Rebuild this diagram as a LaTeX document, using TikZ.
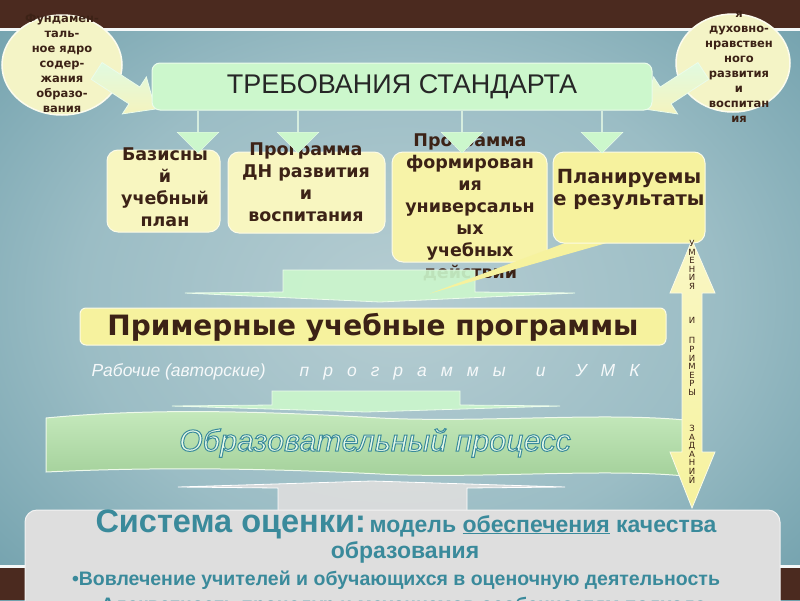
\documentclass[tikz,border=0pt]{standalone}
\usepackage{fontspec}
\setmainfont{Liberation Sans}
\newfontfamily\boxfont{DejaVu Sans}
\usetikzlibrary{shapes.geometric,shapes.arrows,positioning,calc}
\definecolor{bgLight}{HTML}{B6CDD2}
\definecolor{bgSoft}{HTML}{9BBDC5}
\definecolor{bgMid}{HTML}{72A1AD}
\definecolor{bgDark}{HTML}{4A8A9B}
\definecolor{bgEdge}{HTML}{397B8D}
\definecolor{brownBar}{HTML}{4B2A1F}
\definecolor{paleYellow}{HTML}{F4F4C6}
\definecolor{boxYellow}{HTML}{F8F6C0}
\definecolor{deepYellow}{HTML}{F6F29E}
\definecolor{mint}{HTML}{CCF7CC}
\definecolor{darkText}{HTML}{3C2216}
\definecolor{tealText}{HTML}{3A8A9B}
\definecolor{paleGray}{HTML}{DEDEDE}
\definecolor{shaftBeige}{HTML}{E4DECB}
\definecolor{bannerTop}{HTML}{C6EABD}
\definecolor{bannerMid}{HTML}{DDF6D6}
\definecolor{bannerBot}{HTML}{A3D09A}
\pgfdeclareradialshading{glow}{\pgfpoint{0bp}{0bp}}{color(0bp)=(bgLight); color(20bp)=(bgSoft); color(35bp)=(bgMid); color(50bp)=(bgDark); color(72bp)=(bgEdge)}
\newcommand{\lgap}{\hspace{14pt}}
% block arrow along local x, centred on the origin
\newcommand{\blockArrow}{(-35,-10) -- (10,-10) -- (10,-22) -- (35,0) -- (10,22) -- (10,10) -- (-35,10) -- cycle}
\tikzset{
  bubble/.style = {ellipse, fill=paleYellow, draw=white!70!paleYellow, line width=1.5pt, inner sep=0},
  bubbleText/.style = {font=\boxfont\bfseries\fontsize{11.5}{15}\selectfont, text=darkText, align=center},
  sideArrow/.style = {top color=mint!60!white, bottom color=paleYellow!80!deepYellow, draw=white!60!mint, line width=0.8pt},
  titlebox/.style = {rounded corners=8pt, fill=mint, draw=white!60!mint, line width=1pt, minimum width=500pt, minimum height=47pt, font=\fontsize{27}{30}\selectfont, text=black!85},
  ybox/.style = {rounded corners=11pt, fill=boxYellow, draw=white!60!boxYellow, line width=1pt},
  boxText/.style = {font=\boxfont\bfseries\fontsize{17.5}{22}\selectfont, text=darkText, align=center},
  downArrow/.style = {single arrow, shape border rotate=270, fill=mint, draw=white!60!mint, single arrow head extend=10pt, minimum width=42pt, minimum height=42pt, inner sep=0},
  flatArrow/.style = {fill=mint, draw=white!60!mint, line width=0.8pt, fill opacity=0.9},
  primText/.style = {font=\boxfont\bfseries\fontsize{28}{30}\selectfont, text=darkText},
  workText/.style = {font=\itshape\fontsize{17.5}{20}\selectfont, text=white!88!bgLight},
  bannerText/.style = {font=\itshape\fontsize{30.5}{34}\selectfont},
  evalText/.style = {font=\bfseries, text=tealText},
}

\begin{document}
\begin{tikzpicture}[x=1pt,y=-1pt]
  \path[use as bounding box, clip] (0,0) rectangle (800,600);

  % background and bars
  \shade[shading=glow] (0,0) rectangle (800,600);
  \fill[brownBar] (0,0) rectangle (800,28);
  \fill[white!85!bgLight] (0,28) rectangle (800,31);
  \fill[white!85!bgLight] (0,565) rectangle (800,568);
  \fill[brownBar] (0,568) rectangle (800,600);

  % ----------------------------------------------------------------------
  % bubbles at the top corners
  % ----------------------------------------------------------------------
  \node[bubble, minimum width=120pt, minimum height=100pt] (fund) at (62,65) {};
  \node[bubbleText] (fundText) at (62,63) {Фундамен-\\таль-\\ное ядро\\содер-\\жания\\образо-\\вания};
  \begin{scope}[shift={(126,90)}, rotate=-33]
    \shade[sideArrow] \blockArrow;
  \end{scope}

  \node[bubble, minimum width=114pt, minimum height=98pt] (dnv) at (733,63) {};
  \node[bubbleText] (dnvText) at (739,67) {я\\духовно-\\нравствен\\ного\\развития\\и\\воспитан\\ия};
  \begin{scope}[shift={(674,90)}, rotate=213]
    \shade[sideArrow] \blockArrow;
  \end{scope}

  % ----------------------------------------------------------------------
  % standard and its parts
  % ----------------------------------------------------------------------
  \node[titlebox] (std) at (402,86.5) {ТРЕБОВАНИЯ СТАНДАРТА};

  \node[ybox, minimum width=113pt, minimum height=82pt] (plan) at (163.5,191) {};
  \node[boxText] (planText) at (165,187) {Базисны\\й\\учебный\\план};

  \node[ybox, minimum width=157pt, minimum height=81pt] (dnProg) at (306.5,192.5) {};
  \node[boxText] (dnText) at (306,182) {Программа\\ДН развития\\и\\воспитания};

  \node[ybox, fill=deepYellow!70!boxYellow, minimum width=155pt, minimum height=110pt] (uud) at (469.5,207) {};
  \node[boxText] (uudText) at (470,207) {Программа\\формирован\\ия\\универсальн\\ых\\учебных\\действий};

  % sample programmes
  \node[ybox, fill=deepYellow, rounded corners=6pt, minimum width=586pt, minimum height=37pt] (prim) at (373,326.5) {};
  \node[primText] (primLabel) at (373,327) {Примерные учебные программы};

  \path[flatArrow] (283,270) -- (475,270) -- (475,292) -- (575,293) -- (380,302) -- (185,293) -- (283,292) -- cycle;

  % planned results with its pointer
  \fill[deepYellow] ($(prim.north)+(57,-14)$) coordinate (tipRes) -- (573,240) -- (617,240) -- cycle;
  \node[ybox, fill=deepYellow, minimum width=152pt, minimum height=91pt] (res) at (629,197.5) {};
  \node[boxText, font=\boxfont\bfseries\fontsize{19.5}{22}\selectfont] (resText) at (629,189) {Планируемы\\е результаты};

  \foreach \x [count=\i] in {198,298,462,602} {
    \node[downArrow] (req\i) at (\x,132) {};
  }

  % ----------------------------------------------------------------------
  % working programmes and process
  % ----------------------------------------------------------------------
  \node[workText, anchor=base west] (work) at (88,376) {Рабочие (авторские)\hspace{34pt}п\lgap р\lgap о\lgap г\lgap р\lgap а\lgap м\lgap м\lgap ы\hspace{30pt}и\hspace{30pt}У\lgap М\lgap К};

  \path[flatArrow] (272,391) -- (460,391) -- (460,405) -- (560,406) -- (366,412) -- (172,406) -- (272,405) -- cycle;

  \shade[top color=bannerTop, middle color=bannerMid, bottom color=bannerBot, draw=white!70!bannerTop, line width=1pt]
    (46,418) .. controls (150,408) and (260,411) .. (380,418) .. controls (480,423) and (600,412) .. (685,420)
    -- (685,476) .. controls (600,468) and (480,479) .. (380,474) .. controls (260,468) and (150,467) .. (46,472) -- cycle;
  % outlined lettering: fill and stroke text render mode
  \node[bannerText, text=white!55!mint] (proc) at (375,443) {\special{pdf:literal direct 2 Tr 1 w 0.227 0.541 0.608 RG}Образовательный процесс};

  \path[flatArrow, fill=paleGray, draw=white] (278,520) -- (278,488) -- (178,487) -- (372,481) -- (565,487) -- (467,488) -- (467,520) -- cycle;

  % skills and sample tasks
  \shade[top color=deepYellow!60!white, middle color=shaftBeige, bottom color=deepYellow, draw=white!60!paleYellow, line width=0.8pt]
    (692,240) -- (715,293) -- (702,293) -- (702,452) -- (715,452) -- (692,508) -- (670,452) -- (682,452) -- (682,293) -- (670,293) -- cycle;
  \node[font=\boxfont\fontsize{8.5}{8.6}\selectfont, text=darkText, align=center, anchor=north, inner sep=0] (skillsText) at (692,240)
    {У\\М\\Е\\Н\\И\\Я\\[25.8pt]И\\[11.4pt]П\\Р\\И\\М\\Е\\Р\\Ы\\[27.4pt]З\\А\\Д\\А\\Н\\И\\Й};

  % ----------------------------------------------------------------------
  % evaluation system
  % ----------------------------------------------------------------------
  \node[rounded corners=12pt, fill=paleGray, draw=white!60!paleGray, line width=1pt, minimum width=755pt, minimum height=110pt] (eval) at (402.5,565) {};
  \node[evalText, anchor=base] (evalHead) at (406,532) {{\fontsize{32.5}{34}\selectfont Система оценки:} {\fontsize{23}{24}\selectfont модель \underline{обеспечения} качества}};
  \node[evalText, anchor=base, font=\bfseries\fontsize{23}{24}\selectfont] (evalSub) at (405,558) {образования};
  \node[evalText, anchor=base, font=\bfseries\fontsize{19.5}{24}\selectfont] (evalA) at (396,585) {•Вовлечение учителей и обучающихся в оценочную деятельность};
  \node[evalText, anchor=base, font=\bfseries\fontsize{19.5}{24}\selectfont] (evalB) at (400,611) {•Адекватность процедур и механизмов особенностям подхода};
\end{tikzpicture}
\end{document}
